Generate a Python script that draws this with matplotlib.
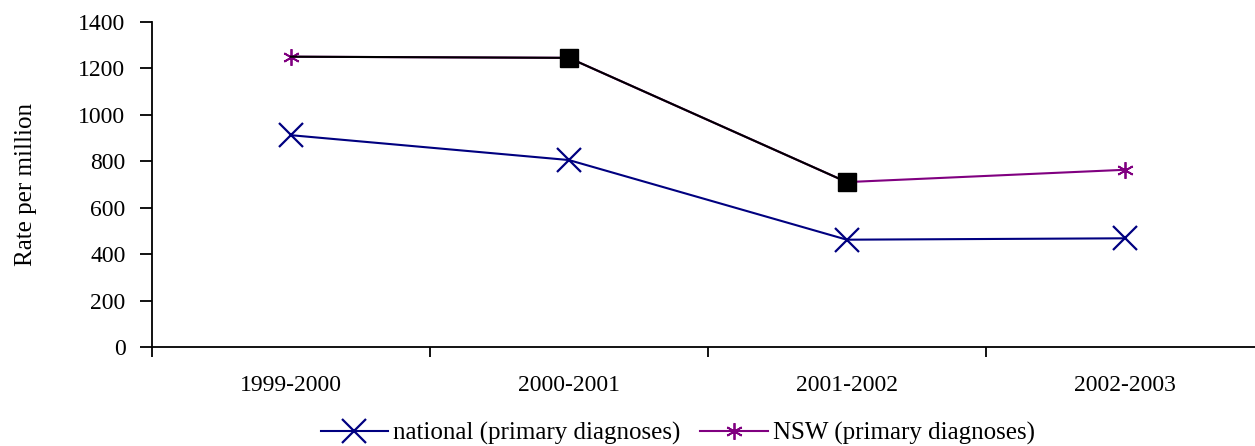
import numpy as np
import matplotlib
matplotlib.use("Agg")
import matplotlib.pyplot as plt
from matplotlib.lines import Line2D

# data
years = ["1999-2000", "2000-2001", "2001-2002", "2002-2003"]
national = [912, 805, 462, 468]
nsw = [1250, 1245, 710, 763]
# black segment drawn over the NSW line (square markers on middle points)
nsw_overlay = [1250, 1245, 710, np.nan]

plt.rcParams['font.family'] = ['Liberation Serif', 'DejaVu Serif']

fig = plt.figure(figsize=(12.55, 4.46), dpi=100)
ax = fig.add_axes([0.121, 0.222, 0.886, 0.729])

x = np.arange(len(years))
ax.plot(x, national, color='#000080', lw=1.5, marker='x', ms=17, mew=1.6)
ax.plot(x, nsw, color='#800080', lw=1.5, marker=(6, 2, 0), ms=12, mew=1.3)
ax.plot(x, nsw_overlay, color='black', lw=1.5, marker='s', ms=13,
        markevery=[1, 2], mfc='black', mec='black')

ax.set_xlim(-0.5, 3.5)
ax.set_ylim(0, 1400)
ax.set_yticks(range(0, 1401, 200))
ax.set_xticks(x)
ax.set_xticklabels(years)
ax.set_xticks(np.arange(-0.5, 3.6, 1), minor=True)
ax.tick_params(axis='x', which='major', length=0, pad=20, labelsize=17)
ax.tick_params(axis='x', which='minor', length=7, width=1.3, direction='out')
ax.tick_params(axis='y', length=9, width=1.3, direction='out', pad=10, labelsize=17)
for s in ['top', 'right']:
    ax.spines[s].set_visible(False)
for s in ['left', 'bottom']:
    ax.spines[s].set_linewidth(1.3)
    ax.spines[s].set_clip_on(False)

ax.set_ylabel("Rate per million", fontsize=18, labelpad=30)

handles = [
    Line2D([], [], color='#000080', lw=1.5, marker='x', ms=17, mew=1.6),
    Line2D([], [], color='#800080', lw=1.5, marker=(6, 2, 0), ms=12, mew=1.3),
]
fig.legend(handles, ["national (primary diagnoses)", "NSW (primary diagnoses)"],
           loc='center', bbox_to_anchor=(0.54, 0.028), ncol=2, frameon=False,
           fontsize=18, handlelength=2.7, handletextpad=0.2, columnspacing=0.8)

fig.savefig("out.png", dpi=100)
